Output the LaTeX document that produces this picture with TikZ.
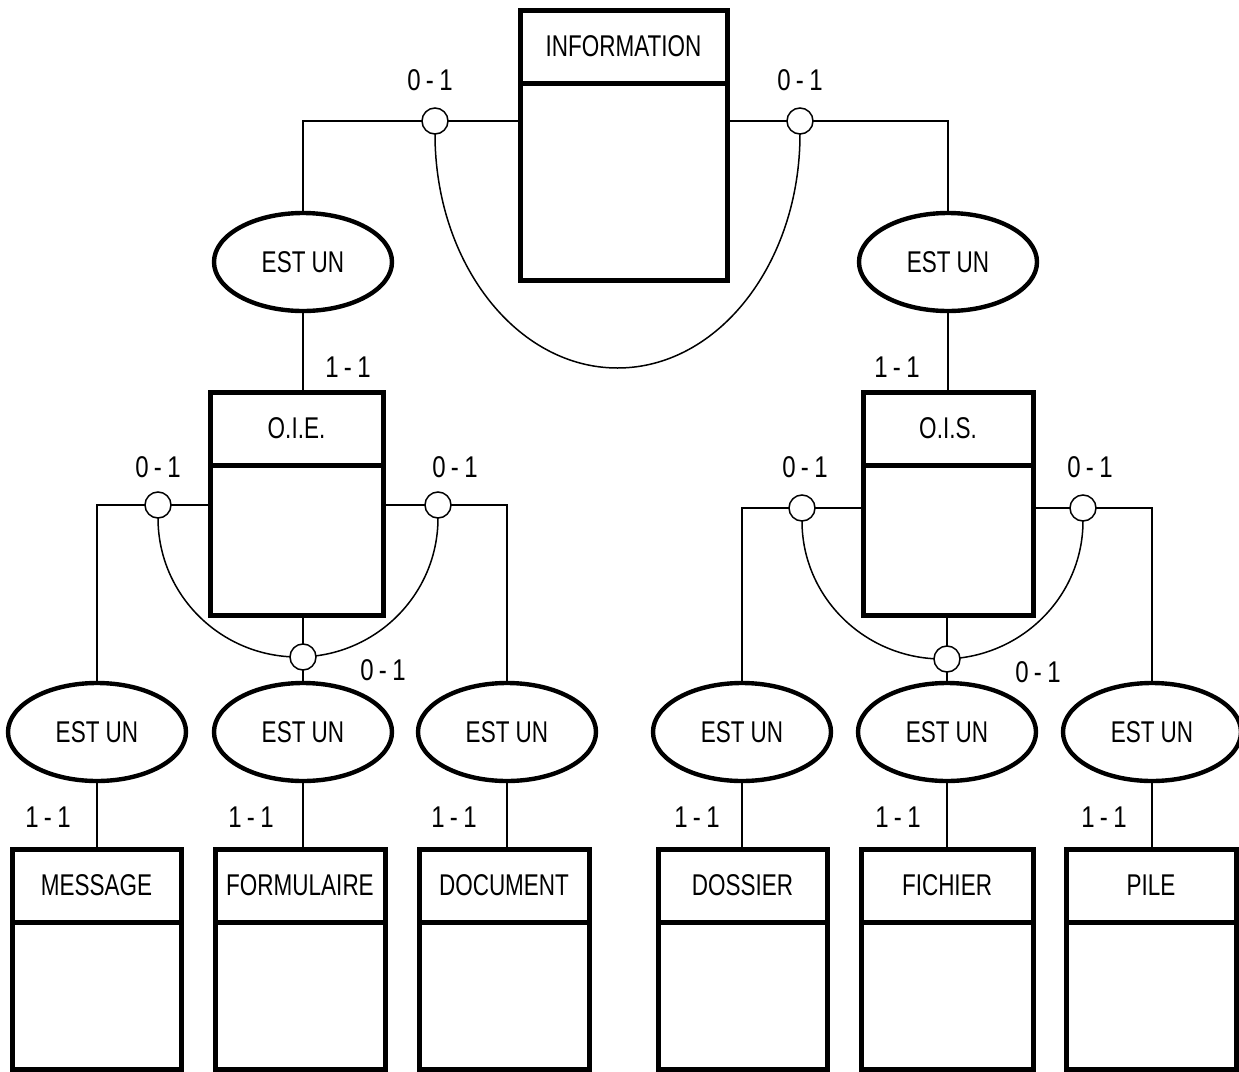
\documentclass[tikz,border=0pt]{standalone}
\usepackage{fontspec}
\setmainfont{Liberation Sans}[FakeStretch=0.75]
\newfontfamily\cardfont{Liberation Sans}[FakeStretch=0.8, LetterSpace=18]
\usetikzlibrary{shapes.geometric,backgrounds}
\newcommand{\entbox}[6]{% name, x1, y1, x2, y2, label
  \node[entframe, anchor=north west, minimum width={(#4-#2)*0.5pt}, minimum height={(#5-#3)*0.5pt}] (#1) at (#2,#3) {};
  \draw[entdiv] ([yshift=-36.5pt]#1.north west) -- ([yshift=-36.5pt]#1.north east);
  \node[lbl] (#1-t) at ([yshift=-18.25pt]#1.north) {#6};
}
\begin{document}
\begin{tikzpicture}[x=0.5pt,y=-0.5pt,
  conn/.style={line width=0.75pt},
  entframe/.style={draw, rectangle, line width=2.5pt, inner sep=0pt, outer sep=0pt},
  entdiv/.style={line width=2.5pt},
  isa/.style={ellipse, draw, line width=2.2pt, fill=white, minimum width=89pt, minimum height=49pt, inner sep=0pt, outer sep=0pt, font=\fontsize{15}{17}\selectfont},
  card/.style={circle, draw, line width=0.75pt, fill=white, minimum size=13pt, inner sep=0pt, outer sep=0pt},
  lbl/.style={inner sep=0pt, font=\fontsize{15}{17}\selectfont},
  cardlbl/.style={inner sep=0pt, font=\cardfont\fontsize{15}{17}\selectfont}]
\useasboundingbox (0,0) rectangle (1239,1072);

% entities
\entbox{info}{520}{10}{727}{280}{INFORMATION}
\entbox{oie}{210}{392}{383}{615}{O.I.E.}
\entbox{ois}{863}{392}{1033}{615}{O.I.S.}
\entbox{msg}{12}{849}{181}{1069}{MESSAGE}
\entbox{form}{215}{849}{385}{1069}{FORMULAIRE}
\entbox{doc}{419}{849}{589}{1069}{DOCUMENT}
\entbox{dos}{658}{849}{827}{1069}{DOSSIER}
\entbox{fic}{861}{849}{1033}{1069}{FICHIER}
\entbox{pile}{1066}{849}{1236}{1069}{PILE}

% relationships
\node[isa] (e1) at (303,262) {EST UN};
\node[isa] (e2) at (948,262) {EST UN};
\node[isa] (e3) at (97,732) {EST UN};
\node[isa] (e4) at (303,732) {EST UN};
\node[isa] (e5) at (507,732) {EST UN};
\node[isa] (e6) at (742,732) {EST UN};
\node[isa] (e7) at (947,732) {EST UN};
\node[isa] (e8) at (1152,732) {EST UN};

% cardinality circles
\node[card] (c1) at (435,121) {};
\node[card] (c2) at (800,121) {};
\node[card] (l1) at (158,505) {};
\node[card] (r1) at (438,505) {};
\node[card] (b1) at (303,657) {};
\node[card] (l2) at (802,508) {};
\node[card] (r2) at (1083,508) {};
\node[card] (b2) at (947,659) {};

% connectors
\begin{scope}[on background layer]
\draw[conn] (c1.east) -- (c1 -| info.west);
\draw[conn] (c1.west) -| (e1.north);
\draw[conn] (c2.west) -- (c2 -| info.east);
\draw[conn] (c2.east) -| (e2.north);
\draw[conn] (c1.south) arc[start angle=180, end angle=360, x radius=91.25pt, y radius=117pt];
\draw[conn] (e1.south) -- (e1.south |- oie.north);
\draw[conn] (e2.south) -- (e2.south |- ois.north);

\draw[conn] (l1.east) -- (l1 -| oie.west);
\draw[conn] (l1.west) -| (e3.north);
\draw[conn] (r1.west) -- (r1 -| oie.east);
\draw[conn] (r1.east) -| (e5.north);
\draw[conn] (b1.north) -- (b1 |- oie.south);
\draw[conn] (b1.south) -- (e4.north);
\draw[conn] (l1.south) arc[start angle=180, end angle=360, x radius=70pt, y radius=69.5pt];

\draw[conn] (l2.east) -- (l2 -| ois.west);
\draw[conn] (l2.west) -| (e6.north);
\draw[conn] (r2.west) -- (r2 -| ois.east);
\draw[conn] (r2.east) -| (e8.north);
\draw[conn] (b2.north) -- (b2 |- ois.south);
\draw[conn] (b2.south) -- (e7.north);
\draw[conn] (l2.south) arc[start angle=180, end angle=360, x radius=70.25pt, y radius=69pt];

\draw[conn] (e3.south) -- (e3.south |- msg.north);
\draw[conn] (e4.south) -- (e4.south |- form.north);
\draw[conn] (e5.south) -- (e5.south |- doc.north);
\draw[conn] (e6.south) -- (e6.south |- dos.north);
\draw[conn] (e7.south) -- (e7.south |- fic.north);
\draw[conn] (e8.south) -- (e8.south |- pile.north);
\end{scope}

% cardinality labels
\node[cardlbl] (t1) at (430,80) {0-1};
\node[cardlbl] (t2) at (800,80) {0-1};
\node[cardlbl] (t3) at (348,367) {1-1};
\node[cardlbl] (t4) at (897,367) {1-1};
\node[cardlbl] (t5) at (158,467) {0-1};
\node[cardlbl] (t6) at (455,467) {0-1};
\node[cardlbl] (t7) at (383,670) {0-1};
\node[cardlbl] (t8) at (805,467) {0-1};
\node[cardlbl] (t9) at (1090,467) {0-1};
\node[cardlbl] (t10) at (1038,672) {0-1};
\node[cardlbl] (u1) at (48,817) {1-1};
\node[cardlbl] (u2) at (251,817) {1-1};
\node[cardlbl] (u3) at (454,817) {1-1};
\node[cardlbl] (u4) at (697,817) {1-1};
\node[cardlbl] (u5) at (898,817) {1-1};
\node[cardlbl] (u6) at (1104,817) {1-1};
\end{tikzpicture}
\end{document}
